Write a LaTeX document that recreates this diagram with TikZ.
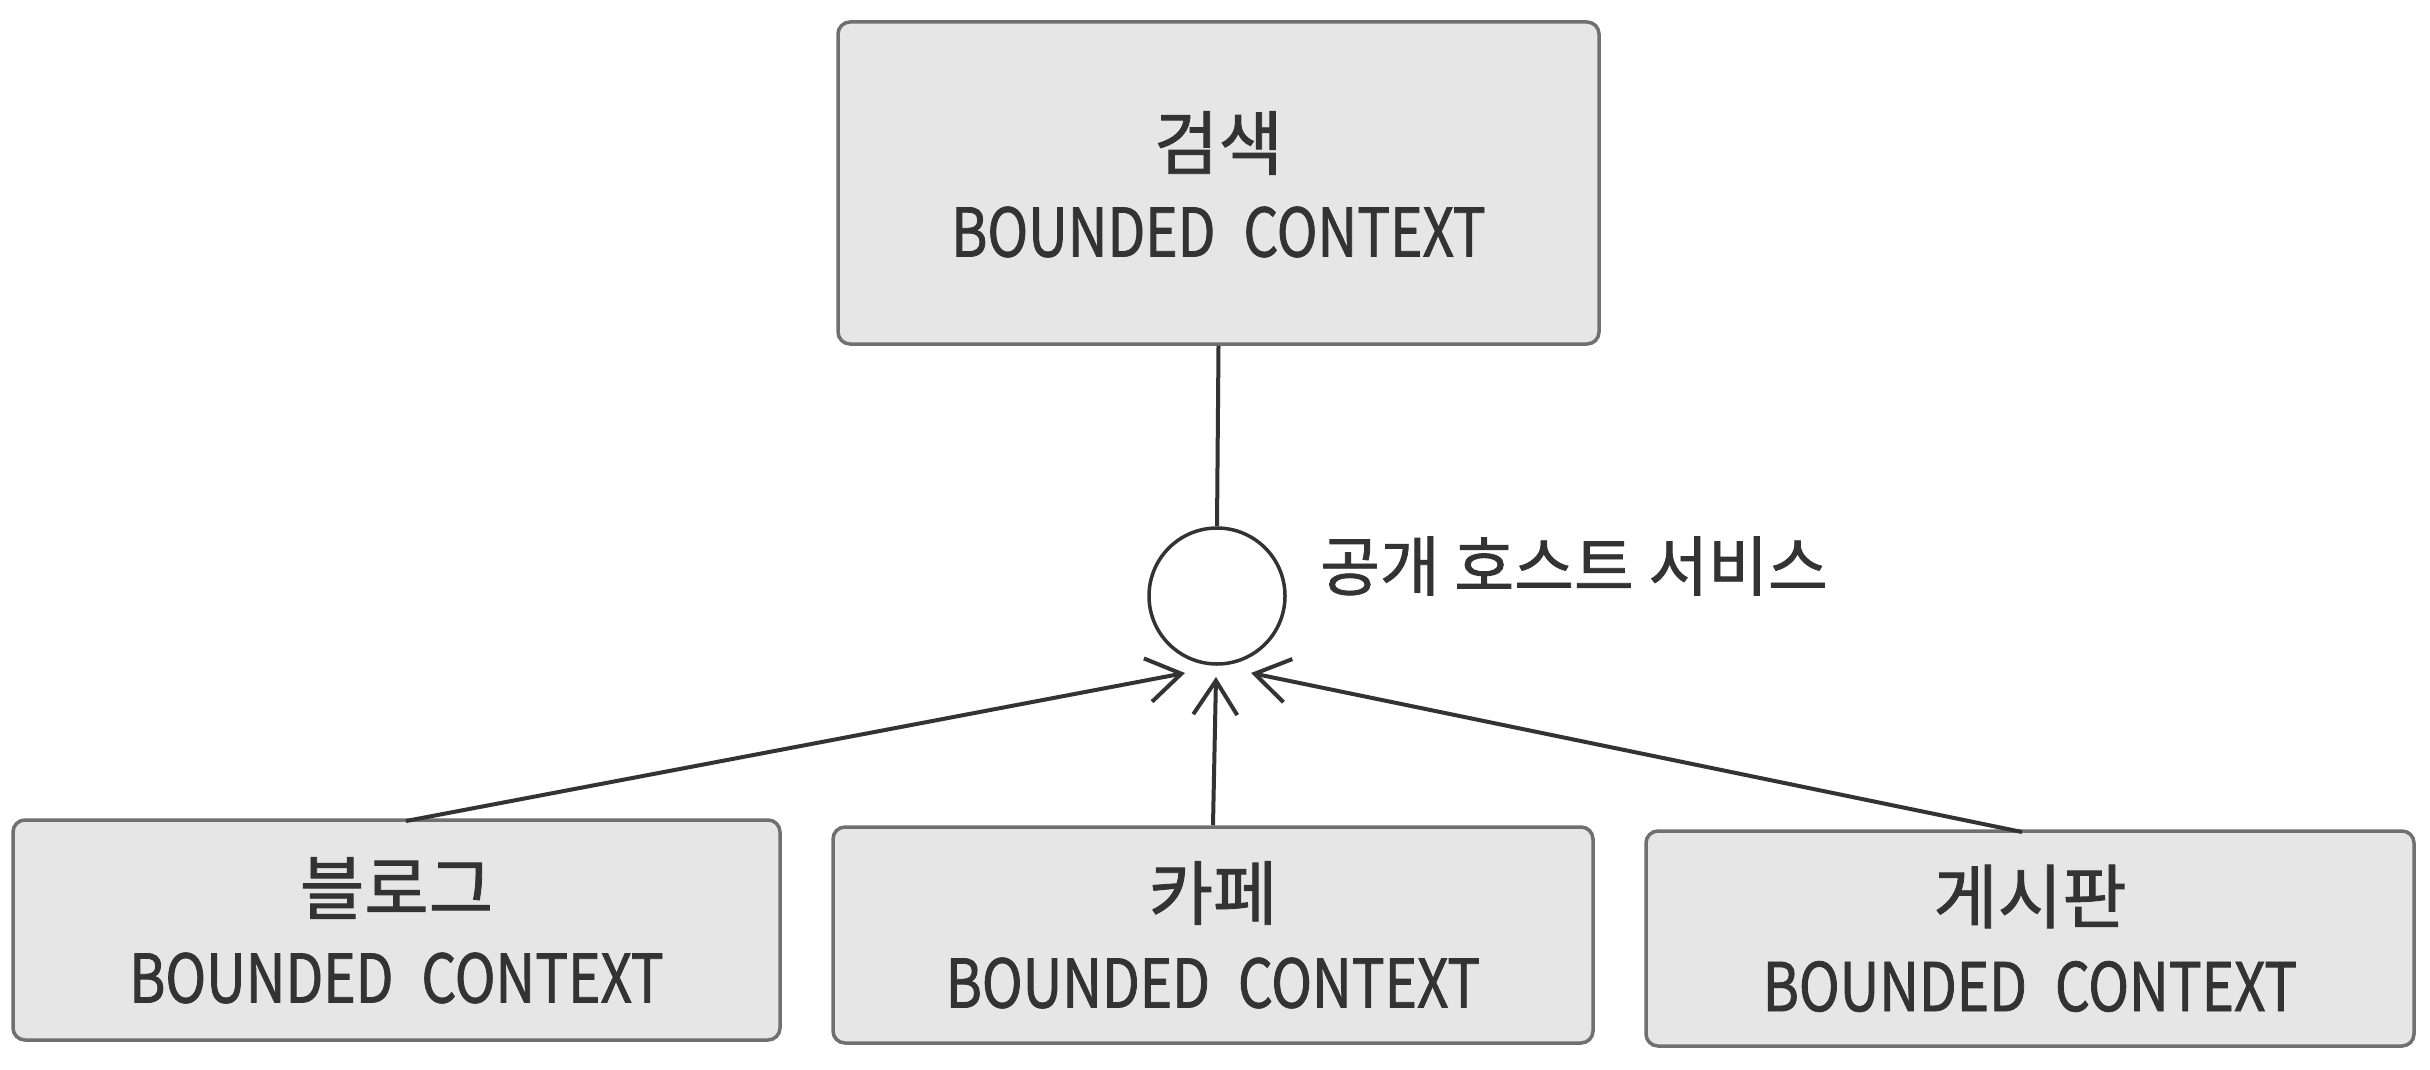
\documentclass[tikz,border=0pt]{standalone}
\usepackage{fontspec}
\setmainfont{Noto Sans CJK KR}
\newfontfamily\krfont[FakeBold=1.2]{Noto Sans CJK KR}
\newfontfamily\latnfont[FakeStretch=0.82,FakeBold=1.2]{Noto Sans CJK KR}
\usetikzlibrary{arrows.meta}
\definecolor{boxfill}{HTML}{E6E6E6}
\definecolor{boxline}{HTML}{707070}
\definecolor{ink}{HTML}{333333}
\tikzset{
  ctxbox/.style={draw=boxline, line width=3.5pt, fill=boxfill, rounded corners=12pt, inner sep=0pt},
  krtext/.style={text=ink, inner sep=0pt, font=\krfont\fontsize{70}{80}\selectfont},
  bctext/.style={text=ink, inner sep=0pt, font=\latnfont\fontsize{67}{80}\selectfont},
  conn/.style={draw=ink, line width=4pt},
  openv/.style={-{Straight Barb[length=34pt,width=44pt]}},
}
\newcommand{\bcname}{BOUNDED\hspace{28pt}CONTEXT}
\begin{document}
\begin{tikzpicture}[x=1pt,y=-1pt]
\useasboundingbox[fill=white] (0,0) rectangle (2430,1070);
% boxes
\node[ctxbox, minimum width=761pt, minimum height=322pt] (tb) at (1218.5,183) {};
\node[ctxbox, minimum width=767pt, minimum height=220pt] (lb) at (396.5,930) {};
\node[ctxbox, minimum width=760pt, minimum height=216pt] (mb) at (1213,935) {};
\node[ctxbox, minimum width=768pt, minimum height=215pt] (rb) at (2030,938.5) {};
% texts
\node[krtext] (tbk) at ([yshift=40pt]tb.center) {검색};
\node[bctext] (tbl) at ([yshift=-49pt]tb.center) {\bcname};
\node[krtext] (lbk) at ([yshift=42pt]lb.center) {블로그};
\node[bctext] (lbl) at ([yshift=-48pt]lb.center) {\bcname};
\node[krtext] (mbk) at ([yshift=42pt]mb.center) {카페};
\node[bctext] (mbl) at ([yshift=-48pt]mb.center) {\bcname};
\node[krtext] (rbk) at ([yshift=42pt]rb.center) {게시판};
\node[bctext] (rbl) at ([yshift=-48pt]rb.center) {\bcname};
% interface circle
\node[draw=ink, line width=3.5pt, circle, minimum size=136pt, inner sep=0pt, fill=white] (circ) at (1217,596) {};
\node[anchor=west, text=ink, inner sep=0pt, font=\krfont\fontsize{65}{70}\selectfont] (lab) at (1320,566) {공개 호스트 서비스};
% connectors
\coordinate (tl) at (1185,673);
\coordinate (tm) at (1216,677);
\coordinate (tr) at (1251,673);
\coordinate (ls) at (406,821);
\coordinate (rs) at (2022,832);
\draw[conn] (tb.south) -- (circ.north);
\draw[conn, openv] (ls) -- (tl);
\draw[conn, openv] (mb.north) -- (tm);
\draw[conn, openv] (rs) -- (tr);
\end{tikzpicture}
\end{document}
